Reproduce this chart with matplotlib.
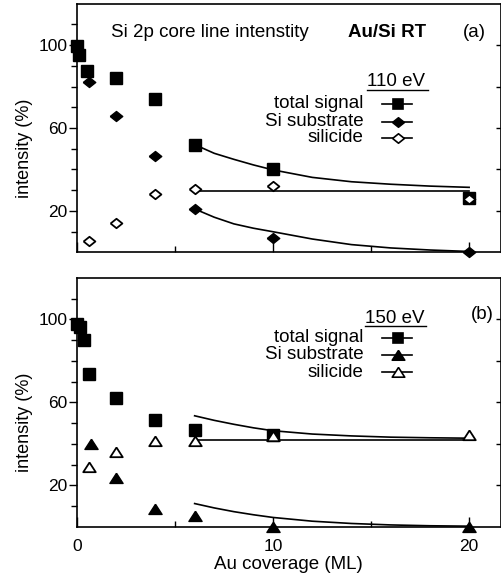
import matplotlib
matplotlib.use('Agg')
from matplotlib import pyplot as plt

plt.rcParams['font.family'] = ['Liberation Sans', 'DejaVu Sans']

# (a) 110 eV, Au/Si RT
tot_x_a = [0, 0.1, 0.5, 2, 4, 6, 10, 20]
tot_a = [99.5, 95, 87.5, 84.1, 74, 51.8, 40.2, 26.3]
sub_x_a = [0.6, 2, 4, 6, 10, 20]
sub_a = [82.2, 65.8, 46.5, 21, 6.8, 0]
sil_x_a = [0.6, 2, 4, 6, 10, 20]
sil_a = [5.5, 14.2, 28.2, 30.5, 32, 25.8]

# (b) 150 eV
tot_x_b = [0, 0.15, 0.35, 0.6, 2, 4, 6, 10]
tot_b = [97.5, 96.5, 90, 73.6, 62.1, 51.6, 46.6, 44]
sub_x_b = [0.7, 2, 4, 6, 10, 20]
sub_b = [40, 23.5, 8.5, 5.2, 0, 0]
sil_x_b = [0.6, 2, 4, 6, 10, 20]
sil_b = [29, 36, 41.4, 41.5, 43.6, 44]

# fit curves
fit_x = [6, 7, 8, 9, 10, 12, 14, 16, 18, 20]
fit_tot_a = [52, 47.8, 44.9, 42.2, 39.8, 36.2, 34.1, 32.9, 32, 31.4]
fit_sub_a = [21, 17, 13.8, 11.7, 10, 6.5, 3.8, 2.2, 1.2, 0.5]
fit_tot_b = [53.5, 51.3, 49.4, 47.7, 46.3, 44.7, 43.8, 43.2, 42.9, 42.7]
fit_sub_b = [11.2, 9.1, 7.3, 5.8, 4.5, 2.7, 1.6, 0.9, 0.5, 0.3]
sil_fit_x = [6, 20]
sil_fit_a = [29.6, 29.6]
sil_fit_b = [41.8, 41.8]

diamond = [(-1, 0), (0, 0.8), (1, 0), (0, -0.8), (-1, 0)]
triangle = [(0, 0.8), (-1, -0.75), (1, -0.75), (0, 0.8)]

fig = plt.figure(figsize=(5.01, 5.79), dpi=100)
ax_a = fig.add_axes([77/501, 1-252.5/579, 423.5/501, 249/579])
ax_b = fig.add_axes([77/501, 1-526.8/579, 423.5/501, 249/579])

FS = 13.5
lw = 1.2


def style_axis(ax, show_xlabels):
    ax.set_xlim(0, 21.6)
    ax.set_ylim(0, 120)
    for s in ax.spines.values():
        s.set_linewidth(1.2)
    ax.set_yticks([20, 60, 100])
    ax.set_yticks([10, 30, 40, 50, 70, 80, 90, 110], minor=True)
    ax.set_xticks([0, 10, 20])
    ax.set_xticks([5, 15], minor=True)
    ax.tick_params(axis='y', which='major', direction='out', length=6, width=1, pad=1, labelsize=12.5)
    ax.tick_params(axis='y', which='minor', direction='out', length=4, width=1)
    ax.tick_params(axis='x', which='major', direction='in', length=7, width=1, pad=9, labelsize=12.5)
    ax.tick_params(axis='x', which='minor', direction='in', length=4, width=1)
    if not show_xlabels:
        ax.set_xticklabels([])
    sec = ax.secondary_yaxis('right')
    sec.set_yticks([20, 40, 60, 80, 100])
    sec.set_yticklabels([])
    sec.tick_params(direction='in', length=3.5, width=1)
    ax.text(-0.125, 0.42, 'intensity (%)', rotation=90, transform=ax.transAxes,
            ha='center', va='center', fontsize=13)


def legend_entry(ax, y, label, marker, face, ms):
    ax.text(14.6, y, label, ha='right', va='center', fontsize=FS)
    ax.plot([15.55, 17.1], [y, y], color='k', lw=lw, clip_on=False)
    ax.plot([16.35], [y], marker=marker, ms=ms, mfc=face, mec='k', mew=1.2, ls='none')


# ---- panel (a)
ax = ax_a
ax.plot(fit_x, fit_tot_a, color='k', lw=lw)
ax.plot(fit_x, fit_sub_a, color='k', lw=lw)
ax.plot(sil_fit_x, sil_fit_a, color='k', lw=lw)
ax.plot(tot_x_a, tot_a, 's', ms=8.5, mfc='k', mec='k', clip_on=False, zorder=3)
ax.plot(sub_x_a, sub_a, marker=diamond, ls='none', ms=9, mfc='k', mec='k', clip_on=False, zorder=4)
ax.plot(sil_x_a, sil_a, marker=diamond, ls='none', ms=8.5, mfc='white', mec='k', mew=1.3, clip_on=False, zorder=5)
style_axis(ax, False)
ax.text(1.74, 105.8, 'Si 2p core line intenstity', ha='left', va='center', fontsize=FS)
ax.text(13.8, 105.8, 'Au/Si RT', ha='left', va='center', fontsize=FS, fontweight='bold')
ax.text(19.7, 105.8, '(a)', ha='left', va='center', fontsize=FS)
ax.text(14.8, 82.2, '110 eV', ha='left', va='center', fontsize=FS)
ax.plot([14.8, 17.9], [78.4, 78.4], color='k', lw=1)
legend_entry(ax, 71.6, 'total signal', 's', 'k', 7.5)
legend_entry(ax, 62.9, 'Si substrate', diamond, 'k', 8.5)
legend_entry(ax, 55.2, 'silicide', diamond, 'white', 8.5)

# ---- panel (b)
ax = ax_b
ax.plot(fit_x, fit_tot_b, color='k', lw=lw)
ax.plot(fit_x, fit_sub_b, color='k', lw=lw)
ax.plot(sil_fit_x, sil_fit_b, color='k', lw=lw)
ax.plot(tot_x_b, tot_b, 's', ms=8.5, mfc='k', mec='k', clip_on=False, zorder=3)
ax.plot(sub_x_b, sub_b, marker=triangle, ls='none', ms=9.5, mfc='k', mec='k', clip_on=False, zorder=4)
ax.plot(sil_x_b, sil_b, marker=triangle, ls='none', ms=9, mfc='white', mec='k', mew=1.3, clip_on=False, zorder=5)
style_axis(ax, True)
ax.text(20.1, 102.3, '(b)', ha='left', va='center', fontsize=FS)
ax.text(14.7, 100.4, '150 eV', ha='left', va='center', fontsize=FS)
ax.plot([14.7, 17.8], [97.0, 97.0], color='k', lw=1, clip_on=False)
legend_entry(ax, 91, 'total signal', 's', 'k', 7.5)
legend_entry(ax, 83, 'Si substrate', triangle, 'k', 9)
legend_entry(ax, 74.5, 'silicide', triangle, 'white', 9)
ax.set_xlabel('Au coverage (ML)', fontsize=FS, labelpad=1)

fig.savefig('out.png', dpi=100)
